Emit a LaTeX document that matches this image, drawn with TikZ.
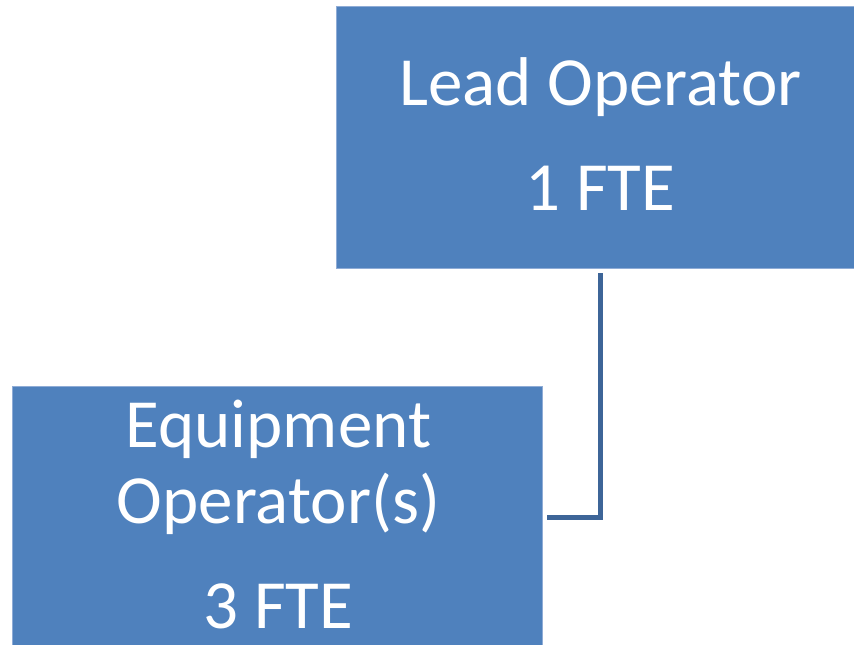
\documentclass[tikz,border=0pt]{standalone}
\usepackage{fontspec}
\setmainfont{Carlito}
\definecolor{boxblue}{HTML}{4F81BD}
\definecolor{boxedge}{HTML}{8FACD6}
\definecolor{linkblue}{HTML}{3D6598}
\begin{document}
\begin{tikzpicture}[x=1pt,y=-1pt,
  orgbox/.style={fill=boxblue,draw=boxedge,line width=1pt},
  label/.style={text=white,font=\fontsize{69}{76}\selectfont,anchor=base,inner sep=0pt},
  link/.style={draw=linkblue,line width=5pt}]
\useasboundingbox (0,0) rectangle (854,645);
\fill[white] (0,0) rectangle (854,645);
\begin{scope}
\clip (0,0) rectangle (854,645);
\draw[orgbox] (336,6) rectangle (870,268);
\draw[orgbox] (12,386) rectangle (542,660);
\end{scope}
\node[label] (lead) at (600.5,105) {Lead Operator};
\node[label] (leadfte) at (600.5,210) {1 FTE};
\node[label] (equip) at (278.5,447) {Equipment};
\node[label] (oper) at (278.5,523) {Operator(s)};
\node[label] (equipfte) at (278.5,628) {3 FTE};
\coordinate (top) at (600.5,273);
\coordinate (corner) at (600.5,517);
\coordinate (end) at (547,517);
\draw[link] (top) -- (corner) -- (end);
\end{tikzpicture}
\end{document}
